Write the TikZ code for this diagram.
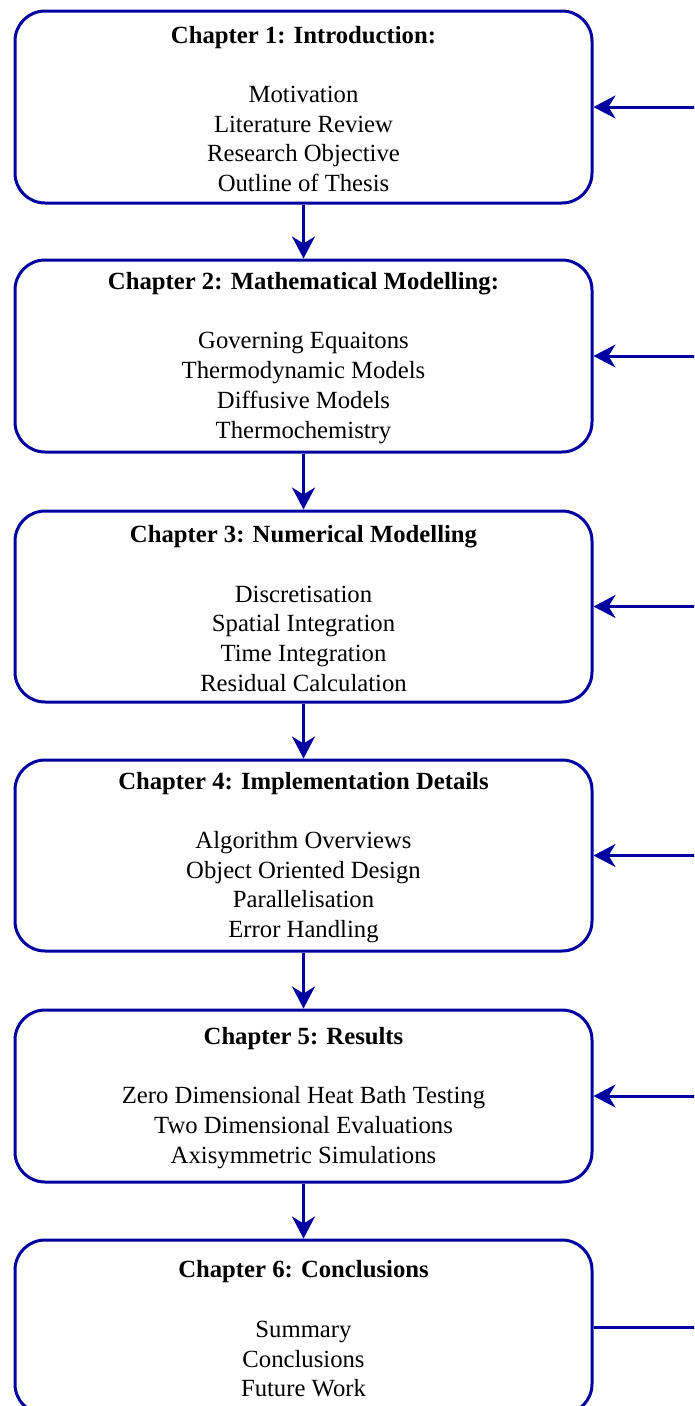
\documentclass[tikz,border=0pt]{standalone}
\usepackage{fontspec}
\setmainfont{Liberation Serif}
\usetikzlibrary{arrows.meta}
\definecolor{flowblue}{HTML}{0000A0}
\newcommand{\titlestrut}{\rule{0pt}{21pt}}
\tikzset{
  chapbox/.style={draw=flowblue, line width=3pt, rounded corners=30pt,
    minimum width=577pt, inner sep=0pt, align=center,
    font=\fontsize{24.7pt}{29.7pt}\selectfont, text=black},
  flowarrow/.style={draw=flowblue, line width=3pt,
    -{Stealth[length=22pt,width=23pt,inset=7pt]}},
  flowline/.style={draw=flowblue, line width=3pt}
}
\begin{document}
\begin{tikzpicture}[x=1pt,y=-1pt]
\useasboundingbox (0,0) rectangle (694,1406);
\clip (0,0) rectangle (694,1406);
\node[chapbox, minimum height=192pt] (b1) at (303.5,107)
  {\titlestrut\textbf{Chapter 1: Introduction:}\\[29.7pt]Motivation\\Literature Review\\Research Objective\\Outline of Thesis};
\node[chapbox, minimum height=192pt] (b2) at (303.5,356)
  {\titlestrut\textbf{Chapter 2: Mathematical Modelling:}\\[29.7pt]Governing Equaitons\\Thermodynamic Models\\Diffusive Models\\Thermochemistry};
\node[chapbox, minimum height=191pt] (b3) at (303.5,606.5)
  {\titlestrut\textbf{Chapter 3: Numerical Modelling}\\[29.7pt]Discretisation\\Spatial Integration\\Time Integration\\Residual Calculation};
\node[chapbox, minimum height=191pt] (b4) at (303.5,855.5)
  {\titlestrut\textbf{Chapter 4: Implementation Details}\\[29.7pt]Algorithm Overviews\\Object Oriented Design\\Parallelisation\\Error Handling};
\node[chapbox, minimum height=172pt] (b5) at (303.5,1096)
  {\titlestrut\textbf{Chapter 5: Results}\\[29.7pt]Zero Dimensional Heat Bath Testing\\Two Dimensional Evaluations\\Axisymmetric Simulations};
\node[chapbox, minimum height=174pt] (b6) at (303.5,1327)
  {\titlestrut\textbf{Chapter 6: Conclusions}\\[29.7pt]Summary\\Conclusions\\Future Work};
\draw[flowarrow] (b1.south) -- (b2.north);
\draw[flowarrow] (b2.south) -- (b3.north);
\draw[flowarrow] (b3.south) -- (b4.north);
\draw[flowarrow] (b4.south) -- (b5.north);
\draw[flowarrow] (b5.south) -- (b6.north);
\coordinate (r1) at (700,107);
\coordinate (r2) at (700,356);
\coordinate (r3) at (700,606.5);
\coordinate (r4) at (700,855.5);
\coordinate (r5) at (700,1096);
\coordinate (r6) at (700,1327);
\draw[flowarrow] (r1) -- (b1.east);
\draw[flowarrow] (r2) -- (b2.east);
\draw[flowarrow] (r3) -- (b3.east);
\draw[flowarrow] (r4) -- (b4.east);
\draw[flowarrow] (r5) -- (b5.east);
\draw[flowline] (b6.east) -- (r6);
\end{tikzpicture}
\end{document}
